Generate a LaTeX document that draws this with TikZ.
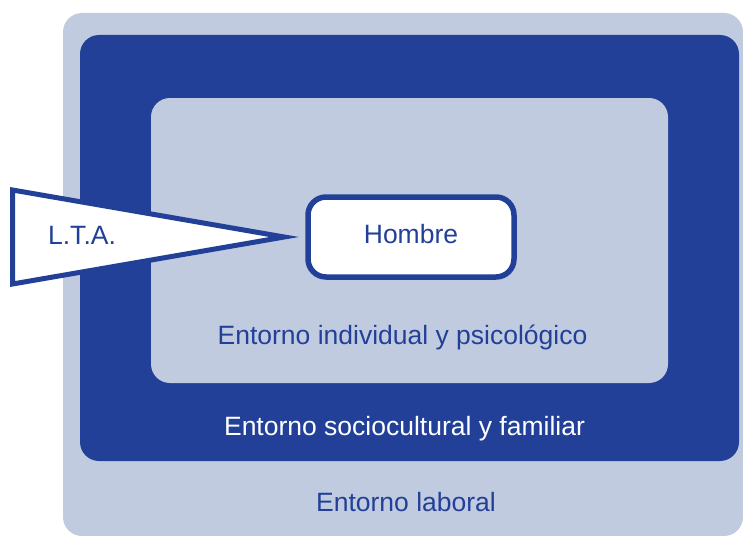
\documentclass[tikz,border=0pt]{standalone}
\usepackage{fontspec}
\setmainfont{Liberation Sans}
\usetikzlibrary{positioning}
\definecolor{navy}{RGB}{34,64,152}
\definecolor{haze}{RGB}{193,203,224}
\tikzset{entorno/.style={rectangle, fill=#1, rounded corners=19pt, inner sep=0pt}}
\tikzset{hombrebox/.style={rectangle, draw=navy, fill=white, line width=5.5pt, rounded corners=18pt,
 minimum width=206pt, minimum height=80pt, inner sep=0pt, text=navy}}
\tikzset{pennant/.style={draw=navy, fill=white, line width=5pt}}
\tikzset{lbl/.style={inner sep=0pt, text height=19pt, text depth=6pt, font=\fontsize{26.5}{30}\selectfont}}

\begin{document}
\begin{tikzpicture}[x=1pt, y=-1pt, node distance=20pt]
        \useasboundingbox (0,0) rectangle (743,535);
        \clip (0,0) rectangle (743,535);
        \node[entorno=haze, minimum width=680pt, minimum height=523pt] (lab) at (403,274.5) {};
        \node[entorno=navy, minimum width=659pt, minimum height=426pt] (soc) at (409.5,248) {};
        \node[entorno=haze, minimum width=517pt, minimum height=285pt] (ind) at (409.5,240.5) {};
        \node[hombrebox, lbl] (hmbr) at (411,237) {Hombre};
        \coordinate (tip) at ([xshift=-21pt]hmbr.west);

        \draw[pennant] (tip) -- (12.5,190) -- (12.5,284) -- cycle;
        \node[lbl, text=navy] (lta) at (82,237.5) {L.T.A.};

        \node[lbl, text=navy, above=33pt of ind.south, xshift=-7pt] (indtxt) {Entorno individual y psicológico};
        \node[lbl, text=white, above=20pt of soc.south, xshift=-5pt] (soctxt) {Entorno sociocultural y familiar};
        \node[lbl, text=navy, above=19pt of lab.south, xshift=3pt] (labtxt) {Entorno laboral};
      \end{tikzpicture}
\end{document}
